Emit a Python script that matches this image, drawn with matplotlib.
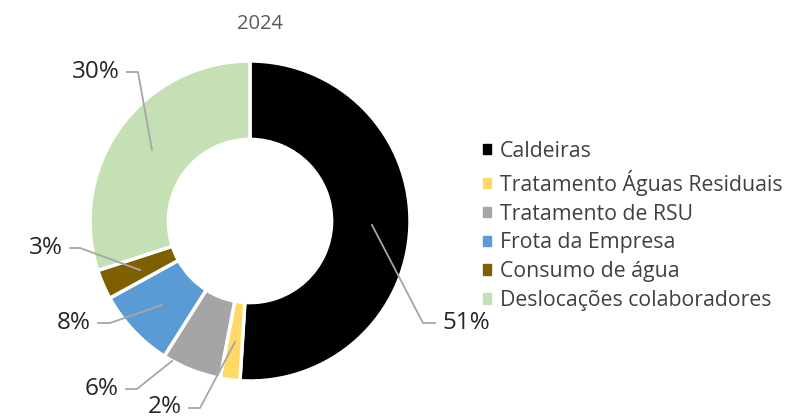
import matplotlib.pyplot as plt
from matplotlib.lines import Line2D

categorias = ['Caldeiras', 'Tratamento Águas Residuais', 'Tratamento de RSU',
              'Frota da Empresa', 'Consumo de água', 'Deslocações colaboradores']
valores = [51, 2, 6, 8, 3, 30]
cores = ['#000000', '#FFD966', '#A5A5A5', '#5B9BD5', '#7F6000', '#C5E0B4']
titulo = '2024'

plt.rcParams['font.family'] = ['Open Sans', 'DejaVu Sans']

W, H = 795, 418
fig = plt.figure(figsize=(W / 100, H / 100), dpi=100)

# donut centred at pixel (250, 221), outer radius 160 px -> 1 data unit
cx, cy, R = 250, 221, 160
ax = fig.add_axes([0, 0, 500 / W, 1])

wedges, _ = ax.pie(valores, colors=cores, startangle=90, counterclock=False,
                   radius=1.0, wedgeprops=dict(width=0.49, edgecolor='white', linewidth=2.5))
ax.set_xlim(-cx / R, (500 - cx) / R)
ax.set_ylim(-(H - cy) / R, cy / R)
ax.axis('off')


def px(x, y):
    return (x - cx) / R, (cy - y) / R


# leader lines: point in slice -> elbow -> end, then label (pixel coords)
rotulos = [
    ((372, 225), (423, 323), (435, 323), (443, 323), 'left'),
    ((235, 342), (200, 408), (189, 408), (182, 407), 'right'),
    ((172, 361), (137, 389), (126, 389), (119, 389), 'right'),
    ((162, 305), (110, 323), (98, 323), (91, 323), 'right'),
    ((140, 270), (80, 248), (70, 248), (63, 248), 'right'),
    ((152, 150), (138, 72), (127, 72), (120, 72), 'right'),
]
for v, (p0, p1, p2, pt, ha) in zip(valores, rotulos):
    xs, ys = zip(*[px(*p) for p in (p0, p1, p2)])
    ax.add_line(Line2D(xs, ys, color='#A6A6A6', lw=1.3, clip_on=False))
    tx, ty = px(*pt)
    ax.text(tx, ty, f'{v}%', ha=ha, va='center', fontsize=17.5, color='#262626')

fig.text(260 / W, 1 - 24 / H, titulo, ha='center', va='center', fontsize=14.5, color='#595959')

handles = [plt.Rectangle((0, 0), 1, 1, color=c) for c in cores]
fig.legend(handles, categorias, loc='center left', bbox_to_anchor=(464 / W, 1 - 226 / H),
           frameon=False, fontsize=15.3, handlelength=0.38, handleheight=0.38,
           handletextpad=0.42, labelspacing=0.37, labelcolor='#404040')

fig.savefig('out.png', dpi=100)
